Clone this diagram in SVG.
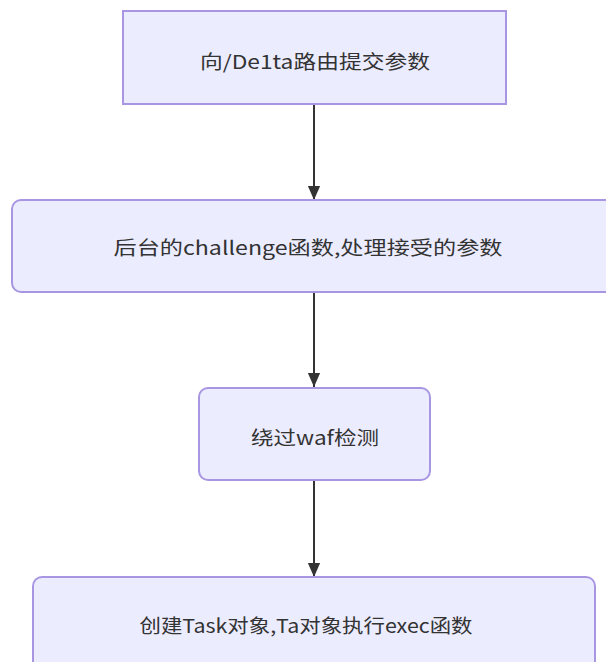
<svg xmlns="http://www.w3.org/2000/svg" width="606" height="662" viewBox="0 0 606 662">
<defs>
<style>
.box{fill:#ECECFF;stroke:#A996E3;stroke-width:2}
.lbl{font-family:"Microsoft YaHei","Noto Sans CJK SC",sans-serif;font-size:19px;fill:#333;text-anchor:middle;dominant-baseline:central}
.edge{stroke:#333;stroke-width:2;fill:none}
</style>
<marker id="arr" viewBox="0 0 10 10" refX="10" refY="5" markerWidth="8" markerHeight="7" markerUnits="userSpaceOnUse" orient="auto">
<path d="M0,0 L10,5 L0,10 z" fill="#333"/>
</marker>
<marker id="ah" viewBox="0 0 16 14" refX="16" refY="7" markerWidth="14" markerHeight="16" markerUnits="userSpaceOnUse" orient="auto">
<path d="M0,0 L16,7 L0,14 z" fill="#333"/>
</marker>
</defs>
<rect width="606" height="662" fill="#fff"/>
<g id="edges">
<line class="edge" x1="314" y1="104" x2="314" y2="200" marker-end="url(#ah)"/>
<line class="edge" x1="314" y1="292" x2="314" y2="387" marker-end="url(#ah)"/>
<line class="edge" x1="314" y1="480" x2="314" y2="577" marker-end="url(#ah)"/>
</g>
<g id="n1">
<rect class="box" x="123" y="11" width="383" height="93"/>
<text class="lbl" x="315" y="60" textLength="230" lengthAdjust="spacingAndGlyphs">向/De1ta路由提交参数</text>
</g>
<g id="n2">
<rect class="box" x="12" y="200" width="612" height="92" rx="9"/>
<text class="lbl" x="308" y="246" textLength="389" lengthAdjust="spacingAndGlyphs">后台的challenge函数,处理接受的参数</text>
</g>
<g id="n3">
<rect class="box" x="199" y="388" width="231" height="92" rx="9"/>
<text class="lbl" x="315" y="436" textLength="128" lengthAdjust="spacingAndGlyphs">绕过waf检测</text>
</g>
<g id="n4">
<rect class="box" x="33" y="577" width="562" height="100" rx="9"/>
<text class="lbl" x="306" y="624" textLength="333" lengthAdjust="spacingAndGlyphs">创建Task对象,Ta对象执行exec函数</text>
</g>
</svg>
